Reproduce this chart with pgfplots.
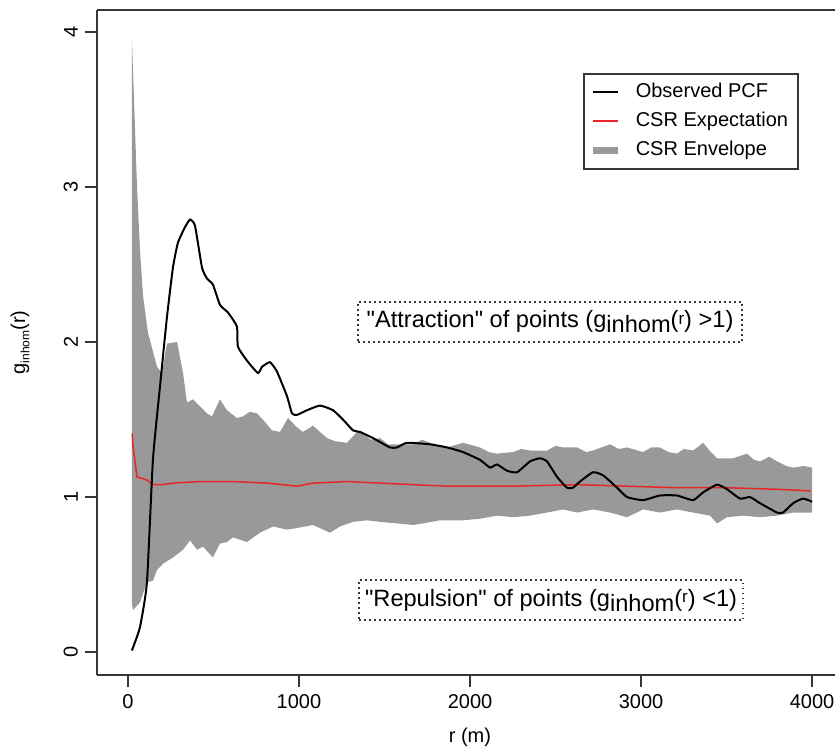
\documentclass[border=0pt]{standalone}
\usepackage{fontspec}
\setmainfont{Liberation Sans}[Ligatures=TeXOff]
\usepackage{pgfplots}
\pgfplotsset{compat=1.18}
\usepackage{pgfplotstable}
\usepgfplotslibrary{fillbetween}
\usetikzlibrary{calc}

\definecolor{envgray}{RGB}{153,153,153}
\definecolor{axisgray}{RGB}{55,55,55}
\definecolor{csrred}{RGB}{232,38,38}

% CSR envelope, upper and lower bound
\pgfplotstableread{
x y
23 3.96
53 3.00
70 2.60
88 2.30
117 2.06
170 1.84
199 1.80
228 1.99
287 2.00
322 1.80
345 1.61
380 1.63
462 1.54
491 1.52
538 1.63
579 1.56
637 1.51
672 1.52
713 1.55
754 1.54
789 1.50
842 1.43
889 1.42
936 1.51
988 1.45
1023 1.42
1082 1.46
1164 1.38
1211 1.36
1281 1.35
1339 1.42
1374 1.41
1420 1.37
1474 1.38
1520 1.34
1573 1.34
1667 1.34
1720 1.37
1766 1.35
1866 1.32
1959 1.35
2058 1.32
2110 1.29
2158 1.28
2251 1.29
2300 1.31
2351 1.30
2450 1.30
2500 1.33
2544 1.32
2626 1.32
2680 1.29
2719 1.30
2819 1.34
2870 1.31
2918 1.32
3012 1.29
3060 1.32
3111 1.32
3160 1.29
3210 1.28
3250 1.31
3304 1.30
3363 1.35
3400 1.30
3444 1.25
3538 1.25
3620 1.28
3660 1.24
3696 1.23
3750 1.26
3795 1.23
3850 1.20
3889 1.19
3950 1.20
4000 1.19
}\envup

\pgfplotstableread{
x y
23 0.32
29 0.27
70 0.32
111 0.45
146 0.46
170 0.53
205 0.57
263 0.61
322 0.66
363 0.72
404 0.66
439 0.68
497 0.61
538 0.70
579 0.71
614 0.74
696 0.71
772 0.77
848 0.81
930 0.79
988 0.80
1082 0.82
1181 0.77
1240 0.81
1316 0.84
1398 0.85
1474 0.84
1573 0.83
1667 0.82
1725 0.83
1825 0.85
1959 0.85
2058 0.86
2158 0.88
2251 0.87
2351 0.88
2450 0.90
2544 0.92
2626 0.90
2719 0.92
2819 0.90
2918 0.87
3012 0.92
3111 0.90
3210 0.92
3304 0.90
3404 0.88
3444 0.83
3503 0.87
3597 0.88
3696 0.87
3795 0.88
3889 0.90
4000 0.90
}\envlo

% CSR expectation
\pgfplotstableread{
x y
25 1.41
30 1.32
53 1.13
111 1.11
146 1.08
205 1.08
263 1.09
421 1.10
614 1.10
813 1.09
988 1.07
1082 1.09
1281 1.10
1474 1.09
1667 1.08
1866 1.07
2251 1.07
2626 1.08
2918 1.07
3210 1.06
3503 1.06
3795 1.05
3990 1.04
}\csr

% observed pair correlation function
\pgfplotstableread{
x y
23 0.01
70 0.16
111 0.45
146 1.24
187 1.71
228 2.16
263 2.48
292 2.64
333 2.74
363 2.79
392 2.75
433 2.48
462 2.41
497 2.37
538 2.24
585 2.19
637 2.10
643 1.97
696 1.88
760 1.80
784 1.84
830 1.87
871 1.81
930 1.65
959 1.54
988 1.53
1047 1.56
1123 1.59
1199 1.56
1257 1.50
1316 1.43
1357 1.42
1433 1.38
1532 1.32
1573 1.32
1632 1.35
1766 1.34
1866 1.32
1959 1.29
2058 1.24
2117 1.19
2158 1.21
2216 1.17
2275 1.16
2351 1.23
2409 1.25
2450 1.23
2509 1.13
2567 1.06
2602 1.06
2643 1.10
2719 1.16
2778 1.14
2860 1.06
2918 1.00
3012 0.98
3111 1.01
3210 1.01
3304 0.98
3363 1.03
3444 1.08
3503 1.05
3579 0.99
3637 1.00
3696 0.96
3795 0.90
3830 0.90
3889 0.96
3947 0.99
4000 0.97
}\pcf

\begin{document}
\begin{tikzpicture}
\begin{axis}[
  name=ax,
  scale only axis,
  width=369pt, height=332.5pt,
  xmin=-181, xmax=4134,
  ymin=-0.148, ymax=4.142,
  axis x line*=box, axis y line*=left,
  axis line style={-, axisgray, line width=0.75pt},
  xtick={0,1000,2000,3000,4000},
  ytick={0,1,2,3,4},
  xtick pos=bottom, ytick pos=left,
  tick align=outside,
  major tick length=6pt,
  tick style={axisgray, line width=0.75pt},
  /pgf/number format/assume math mode=true,
  /pgf/number format/1000 sep={},
  ticklabel style={font=\fontsize{10}{12}\selectfont},
  yticklabel style={rotate=90, anchor=south},
  xlabel={r (m)},
  ylabel={g\raisebox{-0.4ex}{\fontsize{6}{7}\selectfont inhom}(r)},
  xlabel style={at={(axis description cs:0.5054,-0.0932)}, anchor=center, font=\fontsize{10}{12}\selectfont},
  ylabel style={at={(axis description cs:-0.1043,0.5)}, anchor=center, font=\fontsize{10}{12}\selectfont},
  legend cell align=left,
  legend image code/.code={\draw[#1] (0pt,0pt) -- (12.5pt,0pt);},
  legend style={at={(0.951,0.905)}, anchor=north east,
    draw=axisgray, line width=0.75pt,
    font=\fontsize{10}{12}\selectfont,
    inner xsep=3pt, inner ysep=2pt, column sep=5pt, row sep=0pt,
    nodes={inner sep=2pt, text height=8pt, text depth=2.5pt}},
]
\addplot[draw=none, name path=up, forget plot] table {\envup};
\addplot[draw=none, name path=lo, forget plot] table {\envlo};
\addplot[envgray, forget plot] fill between[of=up and lo];
\addplot[csrred, line width=0.75pt, forget plot] table {\csr};
\addplot[black, line width=1pt, smooth, tension=0.3, forget plot] table {\pcf};

\addlegendimage{black, line width=1pt}
\addlegendentry{Observed PCF}
\addlegendimage{csrred, line width=1pt}
\addlegendentry{CSR Expectation}
\addlegendimage{envgray, line width=3.5pt}
\addlegendentry{CSR Envelope}

\node[draw=axisgray, line width=0.8pt, dash pattern=on 0.8pt off 1.7pt,
  minimum width=192pt, minimum height=20pt, inner sep=0pt,
  font=\fontsize{11.8}{13}\selectfont]
  at (axis cs:2468,2.129)
  {"Attraction" of points (g\raisebox{-0.4ex}{inhom}(\raisebox{0.3ex}{\fontsize{8.5}{10}\selectfont r}) >1)};
\node[draw=axisgray, line width=0.8pt, dash pattern=on 0.8pt off 1.7pt,
  minimum width=192pt, minimum height=20pt, inner sep=0pt,
  font=\fontsize{11.8}{13}\selectfont]
  at (axis cs:2474,0.335)
  {"Repulsion" of points (g\raisebox{-0.4ex}{inhom}(\raisebox{0.3ex}{\fontsize{8.5}{10}\selectfont r}) <1)};
\end{axis}
\pgfresetboundingbox
\useasboundingbox ($(ax.south west)+(-48.5pt,-37pt)$) rectangle ($(ax.north east)+(0pt,5pt)$);
\end{tikzpicture}
\end{document}
